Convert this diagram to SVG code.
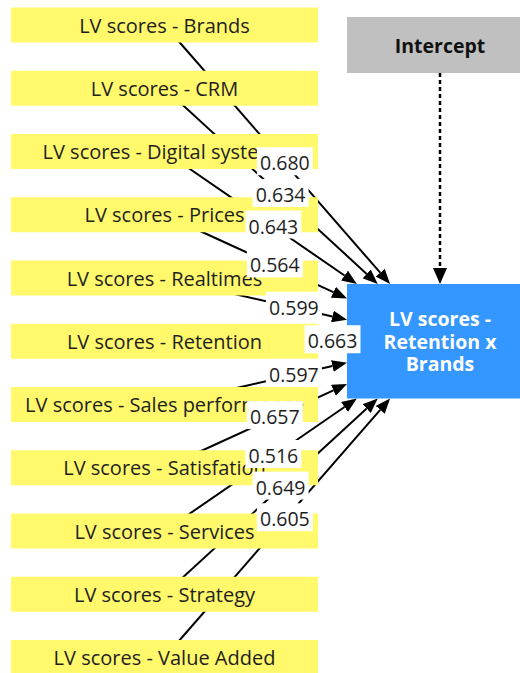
<svg xmlns="http://www.w3.org/2000/svg" width="520" height="673" viewBox="0 0 520 673">
<style>
.bg{fill:#ffffff}
.ind rect{fill:#fff96b}
.ind text{font-family:"Open Sans","Noto Sans",sans-serif;font-size:20px;fill:#1e1e1e;text-anchor:middle}
.edge{stroke:#000;stroke-width:2;fill:none;marker-end:url(#arr)}
.dash{stroke:#000;stroke-width:2.5;fill:none;stroke-dasharray:4 3;marker-end:url(#arr2)}
.lbl rect{fill:#ffffff}
.lbl text{font-family:"Open Sans","Noto Sans",sans-serif;font-size:19.5px;fill:#1e1e1e;text-anchor:middle}
.lv rect{fill:#3397ff}
.lv text{font-family:"Open Sans","Noto Sans",sans-serif;font-size:19.5px;font-weight:bold;fill:#ffffff;text-anchor:middle}
.ic rect{fill:#c0c0c0}
.ic text{font-family:"Open Sans","Noto Sans",sans-serif;font-size:19.5px;font-weight:bold;fill:#111;text-anchor:middle}
</style>
<defs>
<marker id="arr" markerUnits="userSpaceOnUse" markerWidth="15" markerHeight="12" refX="0" refY="6" orient="auto"><path d="M0,0 L15,6 L0,12 z" fill="#000"/></marker>
<marker id="arr2" markerUnits="userSpaceOnUse" markerWidth="16" markerHeight="14" refX="0" refY="7" orient="auto"><path d="M0,0 L16,7 L0,14 z" fill="#000"/></marker>
</defs>
<rect class="bg" x="0" y="0" width="520" height="673"/>
<g id="connectors">
<path class="edge" d="M164.5,25 L380.2,272.7"/>
<path class="edge" d="M164.5,88.25 L366.7,273.9"/>
<path class="edge" d="M164.5,151.5 L344.5,275.5"/>
<path class="edge" d="M164.5,214.75 L333.4,292.2"/>
<path class="edge" d="M164.5,278 L332.4,316.5"/>
<path class="edge" d="M164.5,341.25 L332,341.25"/>
<path class="edge" d="M164.5,404.5 L332.4,366"/>
<path class="edge" d="M164.5,467.75 L333.4,390.3"/>
<path class="edge" d="M164.5,531 L344.5,407"/>
<path class="edge" d="M164.5,594.25 L366.7,408.6"/>
<path class="edge" d="M164.5,657.5 L380.2,409.8"/>
<path class="dash" d="M440,73 L440,268"/>
</g>
<g id="n-brands" class="ind"><rect x="11" y="7.5" width="307" height="35"/><text x="164.5" y="32.5">LV scores - Brands</text></g>
<g id="n-crm" class="ind"><rect x="11" y="70.75" width="307" height="35"/><text x="164.5" y="95.75">LV scores - CRM</text></g>
<g id="n-digital" class="ind"><rect x="11" y="134" width="307" height="35"/><text x="164.5" y="159">LV scores - Digital systems</text></g>
<g id="n-prices" class="ind"><rect x="11" y="197.25" width="307" height="35"/><text x="164.5" y="222.25">LV scores - Prices</text></g>
<g id="n-realtimes" class="ind"><rect x="11" y="260.5" width="307" height="35"/><text x="164.5" y="285.5">LV scores - Realtimes</text></g>
<g id="n-retention" class="ind"><rect x="11" y="323.75" width="307" height="35"/><text x="164.5" y="348.75">LV scores - Retention</text></g>
<g id="n-sales" class="ind"><rect x="11" y="387" width="307" height="35"/><text x="164.5" y="412">LV scores - Sales performance</text></g>
<g id="n-satisfation" class="ind"><rect x="11" y="450.25" width="307" height="35"/><text x="164.5" y="475.25">LV scores - Satisfation</text></g>
<g id="n-services" class="ind"><rect x="11" y="513.5" width="307" height="35"/><text x="164.5" y="538.5">LV scores - Services</text></g>
<g id="n-strategy" class="ind"><rect x="11" y="576.75" width="307" height="35"/><text x="164.5" y="601.75">LV scores - Strategy</text></g>
<g id="n-valueadded" class="ind"><rect x="11" y="640" width="307" height="35"/><text x="164.5" y="665">LV scores - Value Added</text></g>
<g id="n-intercept" class="ic"><rect x="347" y="17" width="186" height="56"/><text x="440" y="52.5">Intercept</text></g>
<g id="n-target" class="lv"><rect x="347" y="284" width="186" height="114.5"/><text x="440" y="326">LV scores -</text><text x="440" y="348.5">Retention x</text><text x="440" y="370.5">Brands</text></g>
<g id="edge-labels" class="lbl">
<rect x="256.9" y="147.25" width="56" height="28"/><text x="284.9" y="170.25">0.680</text>
<rect x="252.6" y="178.9" width="56" height="28"/><text x="280.6" y="201.9">0.634</text>
<rect x="245.4" y="210.5" width="56" height="28"/><text x="273.4" y="233.5">0.643</text>
<rect x="246.8" y="249.4" width="56" height="28"/><text x="274.8" y="272.4">0.564</text>
<rect x="265.9" y="291.7" width="56" height="28"/><text x="293.9" y="314.7">0.599</text>
<rect x="304.5" y="325.25" width="56" height="28"/><text x="332.5" y="348.25">0.663</text>
<rect x="265.9" y="358.8" width="56" height="28"/><text x="293.9" y="381.8">0.597</text>
<rect x="246.8" y="401.1" width="56" height="28"/><text x="274.8" y="424.1">0.657</text>
<rect x="245.4" y="440" width="56" height="28"/><text x="273.4" y="463">0.516</text>
<rect x="252.6" y="471.6" width="56" height="28"/><text x="280.6" y="494.6">0.649</text>
<rect x="256.9" y="503.25" width="56" height="28"/><text x="284.9" y="526.25">0.605</text>
</g>
</svg>
